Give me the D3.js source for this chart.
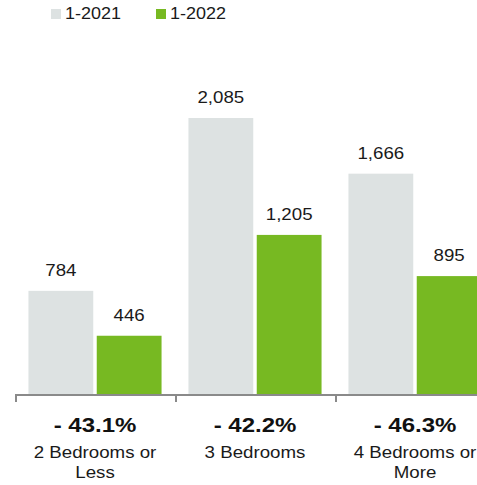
<!DOCTYPE html>
<html>
<head>
<meta charset="utf-8">
<script src="https://cdn.jsdelivr.net/npm/d3@7"></script>
<style>
  html, body { margin: 0; padding: 0; background: #fff; }
  svg { display: block; font-family: "Liberation Sans", Arial, sans-serif; }
</style>
</head>
<body>
<svg id="chart" width="477" height="485"></svg>
<script>
// Home sales by bedroom count, January 2021 vs January 2022
const categories = ["2 Bedrooms or Less", "3 Bedrooms", "4 Bedrooms or More"];
const categoryLines = [["2 Bedrooms or", "Less"], ["3 Bedrooms"], ["4 Bedrooms or", "More"]];
const seriesNames = ["1-2021", "1-2022"];
const values2021 = [784, 2085, 1666];
const values2022 = [446, 1205, 895];
const changeLabels = ["- 43.1%", "- 42.2%", "- 46.3%"];
const seriesColors = ["#dde2e2", "#77b922"];

const svg = d3.select("#chart");
const baseline = 395;

const x0 = d3.scaleBand().domain(categories).range([15, 495]).padding(0);
const x1 = d3.scaleBand().domain(seriesNames).range([0, x0.bandwidth()])
  .paddingInner(0.051).paddingOuter(0.197);
const y = d3.scaleLinear().domain([0, 2085]).range([baseline, 118]);

const rows = categories.map((c, i) => ({
  cat: c,
  vals: [values2021[i], values2022[i]]
}));

// Bars
const groups = svg.append("g").selectAll("g").data(rows).join("g")
  .attr("transform", d => `translate(${x0(d.cat)},0)`);

groups.selectAll("rect").data(d => d.vals.map((v, j) => ({ s: seriesNames[j], v, j })))
  .join("rect")
  .attr("x", d => x1(d.s))
  .attr("y", d => y(d.v))
  .attr("width", x1.bandwidth())
  .attr("height", d => baseline - y(d.v))
  .attr("fill", d => seriesColors[d.j]);

// Value labels above bars
groups.selectAll("text.val").data(d => d.vals.map((v, j) => ({ s: seriesNames[j], v })))
  .join("text")
  .attr("class", "val")
  .attr("transform", d => `translate(${x1(d.s) + x1.bandwidth() / 2},${y(d.v) - 15}) scale(1.1,1)`)
  .attr("text-anchor", "middle")
  .attr("font-size", 17)
  .attr("fill", "#1a1a1a")
  .text(d => d3.format(",")(d.v));

// Category axis
const axis = svg.append("g").attr("transform", `translate(0,${baseline})`);
axis.append("line")
  .attr("x1", x0.range()[0]).attr("x2", x0.range()[1])
  .attr("y1", 0).attr("y2", 0)
  .attr("stroke", "#8a8a8a").attr("stroke-width", 2);
axis.selectAll("line.tick").data(categories).join("line")
  .attr("class", "tick")
  .attr("x1", d => x0(d) + 1).attr("x2", d => x0(d) + 1)
  .attr("y1", 0).attr("y2", 7)
  .attr("stroke", "#8a8a8a").attr("stroke-width", 2);

// Change labels and category names
categories.forEach((c, i) => {
  const cx = x0(c) + x0.bandwidth() / 2;
  svg.append("text")
    .attr("transform", `translate(${cx},432) scale(1.2,1)`)
    .attr("text-anchor", "middle")
    .attr("font-size", 20)
    .attr("font-weight", "bold")
    .attr("fill", "#111")
    .text(changeLabels[i]);
  categoryLines[i].forEach((line, k) => {
    svg.append("text")
      .attr("transform", `translate(${cx},${458 + k * 20}) scale(1.1,1)`)
      .attr("text-anchor", "middle")
      .attr("font-size", 17)
      .attr("fill", "#1a1a1a")
      .text(line);
  });
});

// Legend
const legend = svg.append("g");
const legendX = [51, 156];
seriesNames.forEach((s, i) => {
  legend.append("rect")
    .attr("x", legendX[i]).attr("y", 9)
    .attr("width", 10).attr("height", 10)
    .attr("fill", seriesColors[i]);
  legend.append("text")
    .attr("transform", `translate(${legendX[i] + 14},18.5) scale(1.06,1)`)
    .attr("font-size", 17)
    .attr("fill", "#1a1a1a")
    .text(s);
});
</script>
</body>
</html>
